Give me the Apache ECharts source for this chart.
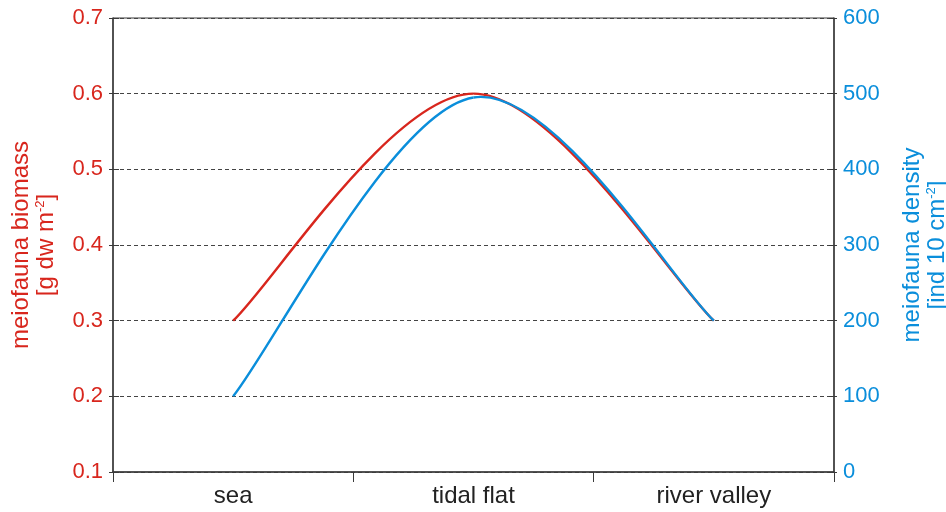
<!DOCTYPE html>
<html><head><meta charset="utf-8">
<script src="https://cdn.jsdelivr.net/npm/echarts@6/dist/echarts.min.js"></script>
<style>html,body{margin:0;padding:0;background:#fff}#c{width:946px;height:512px}</style>
</head><body><div id="c"></div>
<script>
const categories = ['sea', 'tidal flat', 'river valley'];
const biomass = [0.3, 0.6, 0.3];
const density = [100, 495, 200];
const leftTicks = [0.1, 0.7, 0.1];   // min, max, interval
const rightTicks = [0, 600, 100];

const RED = '#d8261d', BLUE = '#0a8edb', AX = '#3a3a3a';
const FONT = 'Liberation Sans, Arial, sans-serif';
const chart = echarts.init(document.getElementById('c'), null, {renderer: 'canvas'});
const nameRich = (color) => ({
  n: {fontSize: 24, color: color, fontFamily: FONT, lineHeight: 25},
  s: {fontSize: 13, color: color, fontFamily: FONT, verticalAlign: 'top', lineHeight: 25, padding: [0, 0, 12, 0]}
});

// smoothed line (spreadsheet-style Bezier) through the data points, placed via the axes
function smoothSeries(values, yAxisIndex, color, z) {
  return {
    type: 'custom', yAxisIndex: yAxisIndex, z: z,
    data: values.map((v, i) => [i, v]),
    renderItem: function (params, api) {
      const i = params.dataIndex;
      const n = values.length;
      if (i >= n - 1) return null;
      const P = values.map((v, j) => api.coord([j, v]));
      const tan = (j) => {
        const a = P[Math.max(j - 1, 0)], b = P[Math.min(j + 1, n - 1)];
        return [b[0] - a[0], b[1] - a[1]];
      };
      const t0 = tan(i), t1 = tan(i + 1);
      return {
        type: 'bezierCurve',
        shape: {
          x1: P[i][0], y1: P[i][1], x2: P[i + 1][0], y2: P[i + 1][1],
          cpx1: P[i][0] + t0[0] / 6, cpy1: P[i][1] + t0[1] / 6,
          cpx2: P[i + 1][0] - t1[0] / 6, cpy2: P[i + 1][1] - t1[1] / 6
        },
        style: {stroke: color, lineWidth: 2.4, fill: null}
      };
    }
  };
}

chart.setOption({
  animation: false,
  grid: {left: 113, right: 112, top: 18, bottom: 40, outerBoundsMode: 'none', containLabel: false,
         show: true, borderColor: AX, borderWidth: 1, backgroundColor: 'transparent'},
  xAxis: {
    type: 'category', data: categories, boundaryGap: true,
    axisLine: {lineStyle: {color: AX, width: 1.5}},
    axisTick: {show: true, length: 10, lineStyle: {color: AX}},
    axisLabel: {color: '#222', fontSize: 24, fontFamily: FONT, margin: 12}
  },
  yAxis: [
    {type: 'value', min: leftTicks[0], max: leftTicks[1], interval: leftTicks[2], position: 'left',
     name: '{n|meiofauna biomass}\n{n|[g dw m}{s|-2}{n|]}', nameLocation: 'middle', nameGap: 54, nameRotate: 90,
     nameTextStyle: {rich: nameRich(RED), align: 'center'},
     axisLine: {show: true, lineStyle: {color: AX, width: 1.5}},
     axisTick: {show: true, inside: true, length: 6, lineStyle: {color: AX}},
     axisLabel: {color: RED, fontSize: 22, fontFamily: FONT, margin: 10, formatter: v => v.toFixed(1)},
     splitLine: {show: true, lineStyle: {color: '#444', type: [4, 3], width: 1}}},
    {type: 'value', min: rightTicks[0], max: rightTicks[1], interval: rightTicks[2], position: 'right',
     name: '{n|meiofauna density}\n{n|[ind 10 cm}{s|-2}{n|]}', nameLocation: 'middle', nameGap: 66, nameRotate: 90,
     nameTextStyle: {rich: nameRich(BLUE), align: 'center'},
     axisLine: {show: true, lineStyle: {color: AX, width: 1.5}},
     axisTick: {show: true, inside: true, length: 5, lineStyle: {color: AX}},
     axisLabel: {color: BLUE, fontSize: 22, fontFamily: FONT, margin: 9},
     splitLine: {show: false}},
    {type: 'value', min: leftTicks[0], max: leftTicks[1], interval: leftTicks[2], position: 'left',
     axisLine: {show: false}, axisLabel: {show: false}, splitLine: {show: false},
     axisTick: {show: true, inside: false, length: 4, lineStyle: {color: AX}}},
    {type: 'value', min: rightTicks[0], max: rightTicks[1], interval: rightTicks[2], position: 'right',
     axisLine: {show: false}, axisLabel: {show: false}, splitLine: {show: false},
     axisTick: {show: true, inside: false, length: 3, lineStyle: {color: AX}}}
  ],
  series: [
    smoothSeries(biomass, 0, RED, 3),
    smoothSeries(density, 1, BLUE, 4)
  ]
});
</script></body></html>
